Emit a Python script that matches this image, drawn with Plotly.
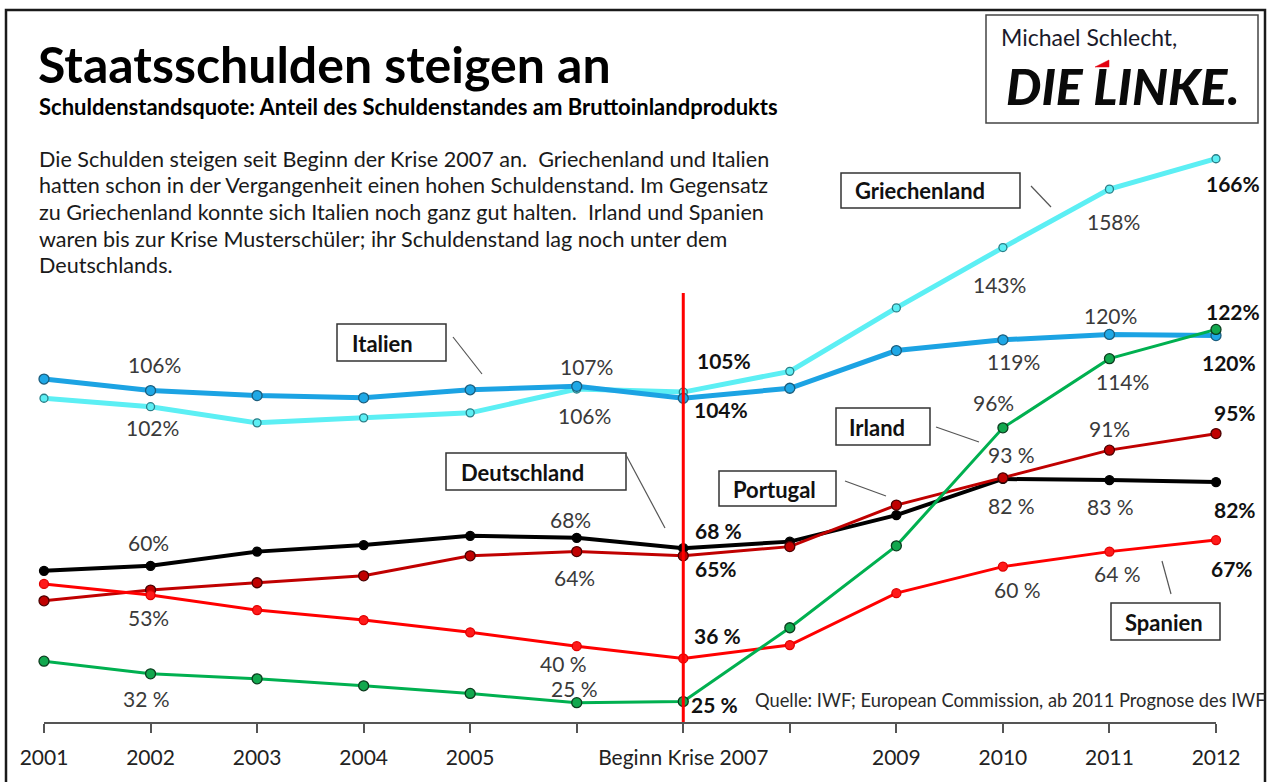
import plotly.graph_objects as go

# ---------------- data ----------------
years = [2001, 2002, 2003, 2004, 2005, 2006, 2007, 2008, 2009, 2010, 2011, 2012]
tick_text = ["2001", "2002", "2003", "2004", "2005", "", "Beginn Krise 2007", "", "2009", "2010", "2011", "2012"]

griechenland = [103.5, 101.3, 97.1, 98.4, 99.7, 105.9, 105.1, 110.5, 127.0, 142.7, 157.9, 165.8]
italien = [108.5, 105.5, 104.2, 103.6, 105.7, 106.6, 103.5, 106.1, 115.9, 118.7, 120.1, 119.8]
deutschland = [58.6, 59.9, 63.6, 65.3, 67.7, 67.2, 64.5, 66.2, 73.1, 82.5, 82.2, 81.7]
portugal = [50.8, 53.6, 55.5, 57.3, 62.5, 63.6, 62.5, 64.9, 75.7, 82.8, 90.0, 94.3]
spanien = [55.2, 52.3, 48.4, 45.8, 42.6, 39.0, 35.8, 39.3, 52.8, 59.7, 63.6, 66.6]
irland = [35.1, 31.8, 30.5, 28.7, 26.7, 24.3, 24.6, 43.8, 65.1, 95.8, 113.8, 121.4]

# data labels (text per year, "" = none)
lab_griechenland = ["", "102%", "", "", "", "106%", "105%", "", "", "143%", "158%", "166%"]
lab_italien = ["", "106%", "", "", "", "107%", "104%", "", "", "119%", "120%", "120%"]
lab_deutschland = ["", "60%", "", "", "", "68%", "68 %", "", "", "82 %", "83 %", "82%"]
lab_portugal = ["", "53%", "", "", "", "64%", "65%", "", "", "93 %", "91%", "95%"]
lab_spanien = ["", "", "", "", "", "40 %", "36 %", "", "", "60 %", "64 %", "67%"]
lab_irland = ["", "32 %", "", "", "", "25 %", "25 %", "", "", "96%", "114%", "122%"]

title = "Staatsschulden steigen an"
subtitle = "Schuldenstandsquote: Anteil des Schuldenstandes am Bruttoinlandprodukts"
paragraph = [
    "Die Schulden steigen seit Beginn der Krise 2007 an.  Griechenland und Italien",
    "hatten schon in der Vergangenheit einen hohen Schuldenstand. Im Gegensatz",
    "zu Griechenland konnte sich Italien noch ganz gut halten.  Irland und Spanien",
    "waren bis zur Krise Musterschüler; ihr Schuldenstand lag noch unter dem",
    "Deutschlands.",
]
source = "Quelle: IWF; European Commission, ab 2011 Prognose des IWF"
author = "Michael Schlecht,"
logo = "DIE LINKE."

# ---------------- layout helpers ----------------
W, H = 1267, 782
L, R, T, B = 44, 1216, 140, 722
FONT = "Lato"


def P(x, y):
    return (x - L) / (R - L), (B - y) / (B - T)


fig = go.Figure()

series = [
    ("Griechenland", griechenland, lab_griechenland, "#5CEFF4", 5, 8, "#5CEFF4", "#2B7F88"),
    ("Italien", italien, lab_italien, "#1CA3E3", 5, 10, "#1FA8E6", "#1B5E7E"),
    ("Deutschland", deutschland, lab_deutschland, "#000000", 4, 9, "#000000", "#000000"),
    ("Portugal", portugal, lab_portugal, "#C00000", 3, 10, "#C00000", "#4A0000"),
    ("Spanien", spanien, lab_spanien, "#FF0000", 3, 9, "#FF1A1A", "#E00000"),
    ("Irland", irland, lab_irland, "#00B050", 3, 10, "#12A84E", "#0B3D1E"),
]

# label offsets (dx, dy in pixels, dy positive = downwards)
offsets = {
    "Griechenland": {2002: (2, 21), 2006: (8, 26), 2007: (41, -32), 2010: (-3, 37), 2011: (4, 32), 2012: (17, 25)},
    "Italien": {2002: (4, -26), 2006: (10, -20), 2007: (38, 11), 2010: (11, 22), 2011: (1, -19), 2012: (13, 27)},
    "Deutschland": {2002: (-2, -23), 2006: (-6, -18), 2007: (35, -18), 2010: (9, 27), 2011: (1, 26), 2012: (19, 27)},
    "Portugal": {2002: (-2, 27), 2006: (-2, 26), 2007: (33, 13), 2010: (9, -23), 2011: (0, -22), 2012: (19, -21)},
    "Spanien": {2006: (-13, 17), 2007: (34, -23), 2010: (15, 23), 2011: (8, 22), 2012: (16, 28)},
    "Irland": {2002: (-4, 25), 2006: (-2, -14), 2007: (31, 3), 2010: (-9, -25), 2011: (13, 23), 2012: (17, -18)},
}
bold_years = {2007, 2012}

annotations = []
for name, vals, labs, col, lw, ms, mfill, mline in series:
    fig.add_trace(go.Scatter(
        x=years, y=vals, mode="lines+markers", name=name,
        line=dict(color=col, width=lw),
        marker=dict(size=ms, color=mfill, line=dict(color=mline, width=1.3)),
        cliponaxis=False, hoverinfo="skip",
    ))
    for yr, v, t in zip(years, vals, labs):
        if not t:
            continue
        dx, dy = offsets[name][yr]
        b = yr in bold_years
        annotations.append(dict(
            x=yr, y=v, xref="x", yref="y", text=f"<b>{t}</b>" if b else t,
            showarrow=False, xshift=dx, yshift=-dy, xanchor="center", yanchor="middle",
            font=dict(family=FONT, size=21, color="#111111" if b else "#3a3a3a"),
        ))


def txt(x, y, s, size, color="#111111", anchor="left", bold=False, fontkw=None):
    px, py = P(x, y)
    annotations.append(dict(
        x=px, y=py, xref="paper", yref="paper", text=f"<b>{s}</b>" if bold else s,
        showarrow=False, xanchor=anchor, yanchor="middle",
        font=dict(family=FONT, size=size, color=color, **(fontkw or {})),
    ))


# title, subtitle, paragraph
txt(36, 64, title, 50, color="#000000", bold=True)
txt(37, 106, subtitle, 22, color="#000000", bold=True)
for i, line in enumerate(paragraph):
    txt(37, 158.5 + i * 26.7, line, 21.6, color="#1a1a1a")

# source note
txt(753, 700, source, 18.3, color="#2a2a2a")

# author + logo
txt(999, 37, author, 23, color="#1a1a2a")
txt(1004, 86, logo, 50, color="#0a0a0a", fontkw=dict(weight=900, style="italic"))

# series name boxes: (text, box x0, y0, x1, y1, text x, text y, leader line)
boxes = [
    ("Griechenland", 841, 173, 1020, 208, 853, 190.5, (1031, 186, 1051, 207)),
    ("Italien", 337, 324, 446, 361, 350, 343, (453, 337, 482, 374)),
    ("Deutschland", 446, 453, 626, 490, 459, 472.5, (626, 455, 665, 528)),
    ("Irland", 836, 408, 930, 445, 847, 427, (936, 427, 979, 442)),
    ("Portugal", 719, 471, 836, 506, 731, 489, (845, 481, 886, 496)),
    ("Spanien", 1111, 603, 1220, 640, 1123, 622, (1162, 561, 1171, 594)),
]

shapes = []
for name, x0, y0, x1, y1, tx, ty, ld in boxes:
    a0, b0 = P(x0, y0)
    a1, b1 = P(x1, y1)
    shapes.append(dict(type="rect", xref="paper", yref="paper", x0=a0, y0=b0, x1=a1, y1=b1,
                       line=dict(color="#333333", width=1.5), fillcolor="white", layer="above"))
    txt(tx, ty, name, 22, color="#111111", bold=True)
    l0, m0 = P(ld[0], ld[1])
    l1, m1 = P(ld[2], ld[3])
    shapes.append(dict(type="line", xref="paper", yref="paper", x0=l0, y0=m0, x1=l1, y1=m1,
                       line=dict(color="#555555", width=1.2), layer="above"))

# outer frame
f0 = P(6, 10)
f1 = P(1265, 795)
shapes.append(dict(type="rect", xref="paper", yref="paper", x0=f0[0], y0=f0[1], x1=f1[0], y1=f1[1],
                   line=dict(color="#1a1a1a", width=2.5), layer="below"))
# logo box
g0 = P(986, 15)
g1 = P(1258, 123)
shapes.append(dict(type="rect", xref="paper", yref="paper", x0=g0[0], y0=g0[1], x1=g1[0], y1=g1[1],
                   line=dict(color="#444444", width=1.5), layer="below"))
# red flag of the logo
pts = [P(1095, 67), P(1109, 60), P(1109, 67)]
path = "M {} {} L {} {} L {} {} Z".format(*[c for p in pts for c in p])
shapes.append(dict(type="path", xref="paper", yref="paper", path=path, fillcolor="#E3000F",
                   line=dict(color="#E3000F", width=0.5), layer="above"))

# crisis line at 2007
shapes.append(dict(type="line", xref="x", yref="paper", x0=2007, x1=2007, y0=0, y1=P(0, 293)[1],
                   line=dict(color="#FF0000", width=3), layer="above"))

yr0 = 25 - (B - 700) / 3.844
yr1 = yr0 + (B - T) / 3.844

fig.update_layout(
    width=W, height=H,
    margin=dict(l=L, r=W - R, t=T, b=H - B, pad=0),
    paper_bgcolor="white", plot_bgcolor="white",
    showlegend=False,
    annotations=annotations, shapes=shapes,
    xaxis=dict(range=[2001, 2012], tickvals=years, ticktext=tick_text,
               showline=True, linecolor="#555555", linewidth=1.5,
               ticks="outside", ticklen=9, tickcolor="#555555", tickwidth=1.5,
               showgrid=False, zeroline=False, ticklabelstandoff=7,
               tickfont=dict(family=FONT, size=21, color="#222222"), layer="below traces"),
    yaxis=dict(range=[yr0, yr1], visible=False, showgrid=False, zeroline=False),
)

fig.write_html("out.html", config={"displayModeBar": False},
               post_script="document.body.style.margin='0';document.body.style.overflow='hidden';")
